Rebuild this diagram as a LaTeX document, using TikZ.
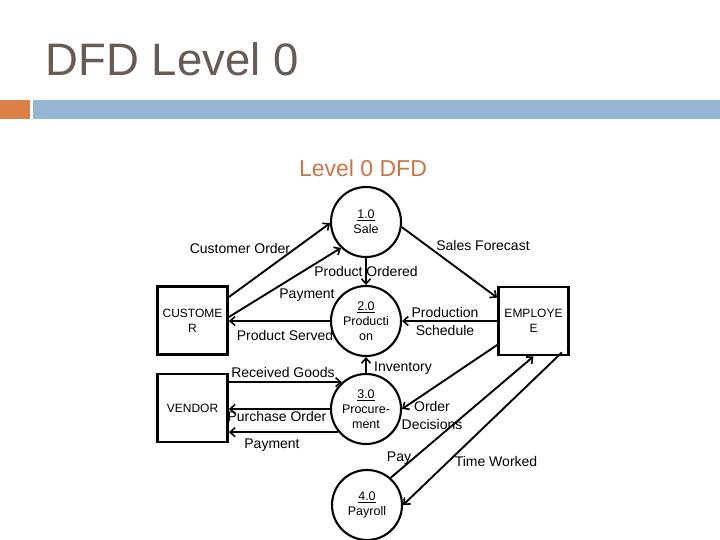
\documentclass[tikz,border=0pt]{standalone}
\usepackage{fontspec}
\setmainfont{Liberation Sans}
\usetikzlibrary{arrows.meta,calc}
\definecolor{titlegray}{RGB}{104,91,82}
\definecolor{accorange}{RGB}{221,128,71}
\definecolor{barblue}{RGB}{148,182,210}
\definecolor{suborange}{RGB}{200,118,70}
\begin{document}
\begin{tikzpicture}[x=1pt,y=-1pt,
  proc/.style={circle,draw,line width=2.1pt,minimum size=70pt,inner sep=0pt,align=center,font=\fontsize{12.5}{15}\selectfont},
  ent/.style={rectangle,draw,line width=2.8pt,minimum width=70pt,minimum height=68pt,inner sep=0pt,align=center,font=\fontsize{12}{15}\selectfont},
  flow/.style={line width=1.9pt,-{Straight Barb[length=5pt,width=9pt,line width=1.6pt]}},
  lbl/.style={font=\fontsize{14}{17}\selectfont,inner sep=0pt,text height=10pt,text depth=0pt},
  lbltwo/.style={font=\fontsize{14}{18}\selectfont,inner sep=0pt,align=center}]
\useasboundingbox (0,0) rectangle (720,540);
\fill[white] (0,0) rectangle (720,540);
% header
\node[anchor=west,text=titlegray,font=\fontsize{45.5}{50}\selectfont,inner sep=0pt,text height=32.5pt,text depth=0pt] (title) at (45.5,59) {DFD Level 0};
\fill[accorange] (0,100) rectangle (30,119);
\fill[barblue] (33,100) rectangle (720,119);
\node[text=suborange,font=\fontsize{23}{27}\selectfont,inner sep=0pt,text height=16.5pt,text depth=0pt] (sub) at (363,168.5) {Level 0 DFD};
% processes
\node[proc] (p1) at (366,222) {\underline{1.0}\\Sale};
\node[proc] (p2) at (366,321) {\underline{2.0}\\Producti\\on};
\node[proc] (p3) at (366,409) {\underline{3.0}\\Procure-\\ment};
\node[proc] (p4) at (367,505) {\underline{4.0}\\Payroll};
% entities
\node[ent] (cust) at (192.5,320.5) {CUSTOME\\R};
\node[ent] (vend) at (192.5,408) {VENDOR};
\node[ent] (emp) at (533.5,321) {EMPLOYE\\E};
% flows
\draw[flow] ([yshift=23.5pt]cust.east) -- (p1.182);
\draw[flow] ([yshift=3.5pt]cust.east) -- (p1.226);
\draw[flow] (p1.south) -- (p2.north);
\draw[flow] (p2.west) -- (p2.west -| cust.east);
\draw[flow] (p1.-8) -- ([yshift=-12pt]emp.north west);
\draw[flow] (emp.west) -- (emp.west -| p2.east);
\draw[flow] (p3.north) -- (p2.south);
\draw[flow] (p3.132 -| vend.east) -- (p3.132);
\draw[flow] (p3.west) -- (p3.west -| vend.east);
\draw[flow] (p3.220) -- (p3.220 -| vend.east);
\draw[flow] ([yshift=-24pt]emp.west) -- (p3.east);
\draw[flow] (p4.49) -- (emp.south);
\draw[flow] ([xshift=-8pt,yshift=4pt]emp.south east) -- (p4.east);
% labels
\node[lbl] (lco) at (240,248) {Customer Order};
\node[lbl] (lpo) at (366,271) {Product Ordered};
\node[lbl] (lpay1) at (307,293) {Payment};
\node[lbl] (lps) at (285,335) {Product Served};
\node[lbl] (lsf) at (483,245) {Sales Forecast};
\node[lbltwo] (lpsch) at (445,321) {Production\\Schedule};
\node[lbl] (lrg) at (283,372) {Received Goods};
\node[lbl] (linv) at (403,366) {Inventory};
\node[lbl] (lpur) at (277,416) {Purchase Order};
\node[lbltwo] (lod) at (432,415) {Order\\Decisions};
\node[lbl] (lpay2) at (272,443) {Payment};
\node[lbl] (lpay) at (399,456) {Pay};
\node[lbl] (ltw) at (496,461) {Time Worked};
\end{tikzpicture}
\end{document}
